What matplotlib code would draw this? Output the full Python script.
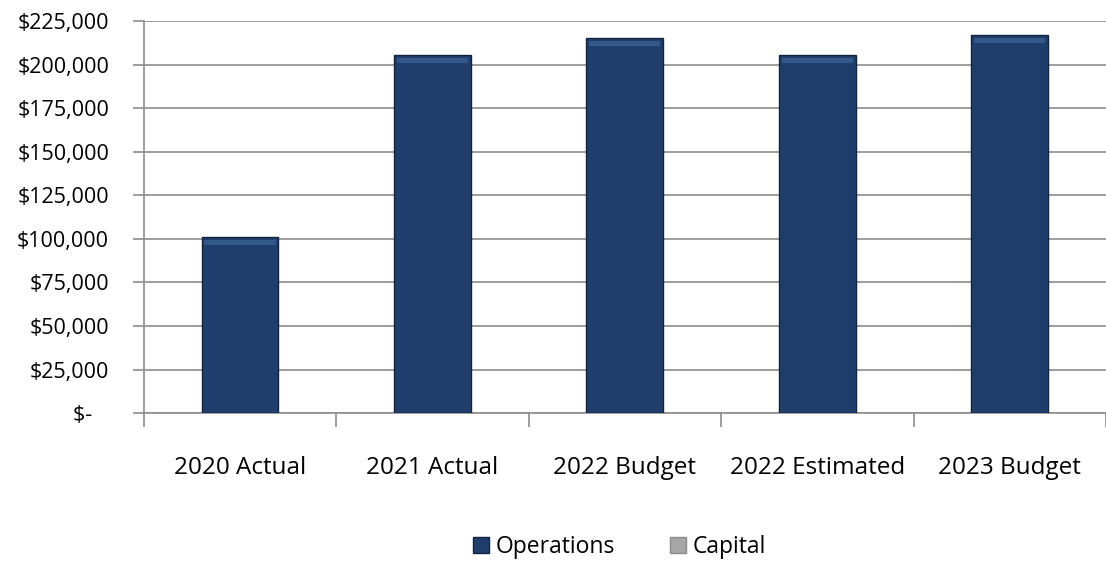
import numpy as np
import matplotlib.pyplot as plt
from matplotlib.ticker import FuncFormatter, FixedLocator
from matplotlib.patches import Patch

categories = ['2020 Actual', '2021 Actual', '2022 Budget', '2022 Estimated', '2023 Budget']
operations = [101000, 205500, 215000, 205500, 217000]
capital = [0, 0, 0, 0, 0]
y_ticks = list(range(0, 225001, 25000))

plt.rcParams['font.family'] = ['Open Sans', 'DejaVu Sans']

fig = plt.figure(figsize=(11.06, 5.69), dpi=100)
ax = fig.add_axes([0.130, 0.274, 0.870, 0.689])

x = np.arange(len(categories))
ax.bar(x, operations, width=0.4, color='#1f3e6c', edgecolor='#10243f', linewidth=1.0, zorder=3)
ax.bar(x, capital, width=0.4, bottom=operations, color='#a6a6a6', zorder=3)
# light strip near the top of each bar, like the bevel in the original
ax.bar(x, [3000] * len(x), width=0.37, bottom=np.array(operations) - 4500,
       color='#34588a', linewidth=0, zorder=4)

ax.set_xlim(-0.5, len(categories) - 0.5)
ax.set_ylim(0, 225000)
ax.set_yticks(y_ticks)


def money(v, pos):
    if v == 0:
        return '$-   '
    return '${:,.0f}'.format(v)


ax.yaxis.set_major_formatter(FuncFormatter(money))
ax.grid(axis='y', color='#8c8c8c', linewidth=1.2, zorder=0)

ax.set_xticks(x)
ax.set_xticklabels(categories, fontsize=17.5)
ax.tick_params(axis='x', which='major', length=0, pad=31)
ax.xaxis.set_minor_locator(FixedLocator(np.arange(-0.5, len(categories), 1.0)))
ax.tick_params(axis='x', which='minor', length=10, color='#8c8c8c', width=1.2)
ax.tick_params(axis='y', length=8, color='#8c8c8c', width=1.2, labelsize=15.5, pad=17)

for s in ['top', 'right']:
    ax.spines[s].set_visible(False)
ax.spines['left'].set_color('#8c8c8c')
ax.spines['left'].set_linewidth(1.2)
ax.spines['bottom'].set_color('#8c8c8c')
ax.spines['bottom'].set_linewidth(1.2)

handles = [Patch(facecolor='#1f3e6c', edgecolor='#10243f', label='Operations'),
           Patch(facecolor='#a6a6a6', edgecolor='#8c8c8c', label='Capital')]
fig.legend(handles=handles, loc='center', bbox_to_anchor=(0.56, 0.039), ncol=2,
           frameon=False, fontsize=16.5, handlelength=0.7, handleheight=0.7,
           handletextpad=0.3, columnspacing=2.4)

fig.savefig('out.png', dpi=100)
